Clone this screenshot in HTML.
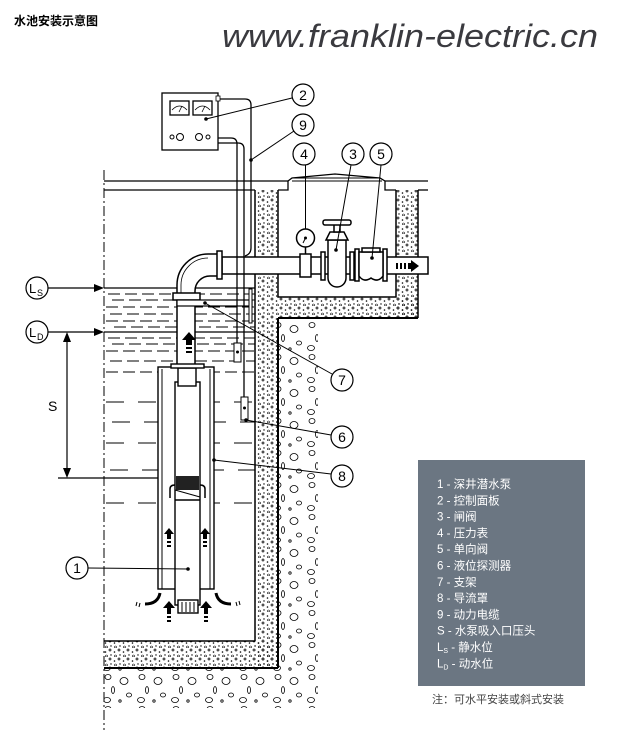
<!DOCTYPE html>
<html><head><meta charset="utf-8"><style>
html,body{margin:0;padding:0;background:#fff;}
svg{display:block;}
text{font-family:"Liberation Sans","Noto Sans CJK SC",sans-serif;}
</style></head><body>
<svg width="640" height="730" viewBox="0 0 640 730" xmlns="http://www.w3.org/2000/svg">
<defs>
<pattern id="conc" width="9" height="9" patternUnits="userSpaceOnUse">
<circle cx="2" cy="2" r="1" fill="none" stroke="#000" stroke-width="0.7"/>
<circle cx="6.5" cy="4" r="0.8" fill="#000"/>
<circle cx="3" cy="7" r="0.7" fill="#000"/>
<circle cx="7.5" cy="8" r="1" fill="none" stroke="#000" stroke-width="0.6"/>
</pattern>
<pattern id="grav" width="34" height="32" patternUnits="userSpaceOnUse">
<ellipse cx="6" cy="5" rx="3" ry="2.5" fill="none" stroke="#000" stroke-width="0.8"/>
<ellipse cx="22" cy="9" rx="4" ry="3.5" fill="none" stroke="#000" stroke-width="0.8"/>
<ellipse cx="11" cy="18" rx="1.5" ry="3.5" fill="none" stroke="#000" stroke-width="0.8"/>
<ellipse cx="27" cy="23" rx="2.5" ry="2" fill="none" stroke="#000" stroke-width="0.8"/>
<ellipse cx="5" cy="28" rx="3.5" ry="2.5" fill="none" stroke="#000" stroke-width="0.8"/>
<circle cx="18" cy="29" r="1.2" fill="none" stroke="#000" stroke-width="0.8"/>
</pattern>
</defs>

<text x="14" y="25" font-size="12" font-weight="bold" fill="#000">水池安装示意图</text>
<text x="222" y="47" font-size="32" font-style="italic" fill="#3a3a3f" textLength="376" lengthAdjust="spacingAndGlyphs">www.franklin-electric.cn</text>

<rect x="278" y="318" width="40" height="350" fill="url(#grav)"/>
<rect x="104" y="668" width="214" height="40" fill="url(#grav)"/>
<rect x="255" y="190" width="23" height="478" fill="url(#conc)"/>
<rect x="104" y="641" width="174" height="27" fill="url(#conc)"/>
<rect x="278" y="297" width="140" height="21" fill="url(#conc)"/>
<rect x="396" y="190" width="22" height="128" fill="url(#conc)"/>
<rect x="255" y="255" width="23" height="20" fill="#fff"/>
<rect x="396" y="255" width="22" height="20" fill="#fff"/>

<g stroke="#000" fill="none">
<line x1="104" y1="181" x2="288" y2="181" stroke-width="1.3"/>
<line x1="104" y1="190" x2="255" y2="190" stroke-width="1.3"/>
<line x1="385" y1="181" x2="428" y2="181" stroke-width="1.3"/>
<line x1="418" y1="190" x2="428" y2="190" stroke-width="1.3"/>
<path d="M288 181 L292 178 L335 174 L380 178 L385 181" stroke-width="1.3"/>
<line x1="292" y1="178" x2="380" y2="178"/>
<line x1="292" y1="181" x2="382" y2="181"/>
<path d="M288 181 L288 190 L278 190" stroke-width="1.3"/>
<path d="M385 181 L385 190 L396 190" stroke-width="1.3"/>
<line x1="104" y1="170" x2="104" y2="730" stroke-dasharray="10,3,2,3" stroke-width="1"/>
<line x1="255" y1="190" x2="255" y2="641" stroke-width="1.5"/>
<line x1="104" y1="641" x2="255" y2="641" stroke-width="1.5"/>
<line x1="104" y1="668" x2="278" y2="668" stroke-width="2"/>
<line x1="278" y1="318" x2="278" y2="668" stroke-width="2"/>
<line x1="278" y1="318" x2="418" y2="318" stroke-width="2"/>
<line x1="418" y1="190" x2="418" y2="318" stroke-width="1.5"/>
<path d="M278 190 L278 297 L396 297 L396 190" stroke-width="1.5"/>
<line x1="104" y1="288" x2="255" y2="288" stroke-width="1.3"/>
<line x1="104" y1="332" x2="255" y2="332" stroke-width="1.3"/>
<g stroke-dasharray="12,5" stroke-width="1">
<line x1="108" y1="294" x2="255" y2="294"/>
<line x1="112" y1="300" x2="255" y2="300"/>
<line x1="106" y1="307" x2="255" y2="307"/>
<line x1="110" y1="314" x2="255" y2="314"/>
<line x1="106" y1="321" x2="255" y2="321"/>
<line x1="114" y1="327" x2="255" y2="327"/>
<line x1="108" y1="338" x2="255" y2="338"/>
<line x1="112" y1="344" x2="255" y2="344"/>
<line x1="106" y1="351" x2="255" y2="351"/>
<line x1="110" y1="361" x2="255" y2="361"/>
<line x1="106" y1="372" x2="255" y2="372"/>
</g>
<g stroke-dasharray="18,14" stroke-width="1">
<line x1="106" y1="402" x2="255" y2="402"/>
<line x1="112" y1="422" x2="255" y2="422"/>
<line x1="106" y1="443" x2="255" y2="443"/>
<line x1="110" y1="470" x2="255" y2="470"/>
<line x1="106" y1="503" x2="255" y2="503"/>
</g>
<line x1="58" y1="478" x2="214" y2="478" stroke-width="1.2"/>
</g>

<g stroke="#000" stroke-width="1.5" fill="#fff">
<path d="M222 257 L428 257 L428 274 L222 274 Z"/>
<path d="M177 296 L177 285 A31 31 0 0 1 208 254 L218 254 L218 276 L210 276 A15 15 0 0 0 195 291 L195 296 Z"/>
<path d="M181 296 L181 285 A27 27 0 0 1 208 258" fill="none" stroke-width="0.8"/>
<rect x="217" y="251" width="5" height="28"/>
<rect x="177" y="300" width="18" height="68"/>
<rect x="173" y="293" width="27" height="7"/>
<rect x="177" y="300" width="75" height="6" stroke-width="1.2"/>
<rect x="249" y="289" width="3" height="34" stroke-width="1"/>
<rect x="300" y="254" width="11" height="23"/>
<line x1="305.5" y1="247" x2="305.5" y2="254"/>
<circle cx="305.5" cy="238" r="9"/>
<rect x="321" y="252" width="4" height="28"/>
<rect x="350" y="252" width="4" height="28"/>
<path d="M328 240 L328 278 A9 9 0 0 0 346 278 L346 240 Z"/>
<path d="M326 240 L330 232 L344 232 L348 240 Z"/>
<rect x="334" y="222" width="6" height="10"/>
<rect x="323" y="220" width="28" height="5" rx="2"/>
<rect x="355" y="249" width="4" height="32"/>
<rect x="383" y="249" width="4" height="32"/>
<path d="M359 252 L383 252 L383 276 Q378 283 371 278 Q364 283 359 276 Z"/>
<rect x="362" y="248" width="18" height="4"/>
</g>
<g fill="#000">
<rect x="396" y="263" width="2" height="6"/><rect x="400" y="263" width="2" height="6"/><rect x="404" y="263" width="2" height="6"/>
<rect x="408" y="263" width="4" height="6"/>
<path d="M411 260 L419 266 L411 272 Z"/>
</g>
<circle cx="305.5" cy="238" r="1.5" fill="#000"/>
<line x1="305.5" y1="238" x2="303" y2="243" stroke="#000"/>

<g stroke="#000" fill="#fff" stroke-width="1.3">
<rect x="162" y="93" width="56" height="57"/>
<rect x="170" y="101" width="19" height="14"/>
<rect x="193" y="101" width="19" height="14"/>
<circle cx="172" cy="137" r="2" stroke-width="1"/>
<circle cx="180" cy="137" r="3.5" stroke-width="1"/>
<circle cx="199" cy="137" r="3.5" stroke-width="1"/>
<circle cx="208" cy="137" r="2" stroke-width="1"/>
<rect x="216" y="96" width="4" height="5" stroke-width="0.8"/>
</g>
<g stroke="#000" fill="none" stroke-width="0.8">
<path d="M172 110 Q179.5 102 187 110"/><path d="M195 110 Q202.5 102 210 110"/>
<line x1="179" y1="112" x2="182" y2="106"/><line x1="202" y1="112" x2="205" y2="106"/>
</g>
<g stroke="#000" fill="none" stroke-width="1.3">
<path d="M220 99 L245 99 Q251 99 251 105 L251 248 Q251 254 245 256"/>
<path d="M218 138 L231 138 Q237 138 237 144 L237 343"/>
<path d="M218 143 L238 143 Q244 143 244 149 L244 397"/>
</g>
<rect x="234" y="343" width="7" height="19" fill="#fff" stroke="#000"/>
<circle cx="237.5" cy="352" r="1.5" fill="#000"/>
<rect x="241" y="397" width="7" height="23" fill="#fff" stroke="#000"/>
<circle cx="244.5" cy="408" r="1.5" fill="#000"/>

<g stroke="#000" stroke-width="1.4" fill="#fff">
<rect x="158" y="367" width="56" height="222"/>
<line x1="162" y1="369" x2="162" y2="589" stroke-width="1"/>
<line x1="210" y1="369" x2="210" y2="589" stroke-width="1"/>
<rect x="175" y="382" width="25" height="223"/>
<rect x="178" y="368" width="18" height="18"/>
<rect x="171" y="364" width="33" height="4"/>
<rect x="178" y="600" width="20" height="13"/>
</g>
<rect x="176" y="476" width="23" height="14" fill="#222"/>
<line x1="175" y1="490" x2="200" y2="497" stroke="#000"/>
<line x1="175" y1="500" x2="200" y2="500" stroke="#000" stroke-width="1.5"/>
<g stroke="#000" stroke-width="1">
<line x1="182" y1="602" x2="182" y2="612"/><line x1="186" y1="602" x2="186" y2="612"/><line x1="190" y1="602" x2="190" y2="612"/><line x1="194" y1="602" x2="194" y2="612"/>
</g>
<g fill="#000">
<path d="M182 340 L189 332 L196 340 Z"/><rect x="186" y="340" width="6" height="5"/><rect x="186" y="347" width="6" height="2"/><rect x="186" y="351" width="6" height="2"/>
<path d="M164 534 L169 528 L174 534 Z"/><rect x="167" y="534" width="4" height="5"/><rect x="167" y="541" width="4" height="2"/><rect x="167" y="545" width="4" height="2"/>
<path d="M200 534 L205 528 L210 534 Z"/><rect x="203" y="534" width="4" height="5"/><rect x="203" y="541" width="4" height="2"/><rect x="203" y="545" width="4" height="2"/>
<path d="M163 608 L169 601 L175 608 Z"/><rect x="167" y="608" width="4" height="6"/><rect x="167" y="616" width="4" height="2"/><rect x="167" y="620" width="4" height="2"/>
<path d="M200 608 L206 601 L212 608 Z"/><rect x="204" y="608" width="4" height="6"/><rect x="204" y="616" width="4" height="2"/><rect x="204" y="620" width="4" height="2"/>
</g>
<g stroke="#000" fill="none" stroke-width="3">
<path d="M145 604 Q158 604 160 593"/>
<path d="M231 604 Q218 604 216 593"/>
<path d="M170 498 L170 489 Q170 485 175 485" stroke-width="1.5"/>
<path d="M205 498 L205 489 Q205 485 200 485" stroke-width="1.5"/>
</g>
<g stroke="#000" stroke-width="1">
<line x1="137" y1="602" x2="136" y2="606"/><line x1="140" y1="603" x2="139" y2="607"/>
<line x1="236" y1="602" x2="237" y2="606"/><line x1="239" y1="601" x2="240" y2="605"/>
</g>

<g stroke="#000" stroke-width="1.2" fill="none">
<line x1="67" y1="340" x2="67" y2="470"/>
<line x1="48" y1="288" x2="100" y2="288"/>
<line x1="48" y1="332" x2="100" y2="332"/>
<circle cx="37" cy="288" r="11"/>
<circle cx="37" cy="332" r="11"/>
</g>
<g fill="#000">
<path d="M67 332 L63 342 L71 342 Z"/><path d="M67 478 L63 468 L71 468 Z"/>
<path d="M104 288 L94 284 L94 292 Z"/><path d="M104 332 L94 328 L94 336 Z"/>
</g>
<text x="29" y="293" font-size="13">L</text><text x="37" y="296" font-size="9">S</text>
<text x="29" y="337" font-size="13">L</text><text x="37" y="340" font-size="9">D</text>
<text x="48" y="411" font-size="14">S</text>

<g stroke="#000" stroke-width="1" fill="none">
<line x1="206" y1="119" x2="292" y2="98"/>
<line x1="251" y1="160" x2="294" y2="131"/>
<line x1="305.5" y1="165" x2="305.5" y2="229"/>
<line x1="336" y1="250" x2="351" y2="165"/>
<line x1="372" y1="258" x2="381" y2="165"/>
<line x1="205" y1="303" x2="332" y2="374"/>
<line x1="246" y1="420" x2="331" y2="435"/>
<line x1="214" y1="460" x2="331" y2="474"/>
<line x1="88" y1="568" x2="188" y2="569"/>
</g>
<g fill="#000">
<circle cx="206" cy="119" r="1.8"/><circle cx="251" cy="160" r="1.8"/><circle cx="336" cy="250" r="1.8"/>
<circle cx="372" cy="258" r="1.8"/><circle cx="205" cy="303" r="1.8"/><circle cx="246" cy="420" r="1.8"/>
<circle cx="214" cy="460" r="1.8"/><circle cx="188" cy="569" r="1.8"/>
</g>
<g stroke="#000" stroke-width="1.2" fill="#fff">
<circle cx="303" cy="95" r="11"/><circle cx="303" cy="125" r="11"/><circle cx="304" cy="154" r="11"/>
<circle cx="353" cy="154" r="11"/><circle cx="381" cy="154" r="11"/><circle cx="342" cy="380" r="11"/>
<circle cx="342" cy="437" r="11"/><circle cx="342" cy="476" r="11"/><circle cx="77" cy="568" r="11"/>
</g>
<g font-size="14" text-anchor="middle">
<text x="303" y="100">2</text><text x="303" y="130">9</text><text x="304" y="159">4</text>
<text x="353" y="159">3</text><text x="381" y="159">5</text><text x="342" y="385">7</text>
<text x="342" y="442">6</text><text x="342" y="481">8</text><text x="77" y="573">1</text>
</g>

<rect x="418" y="460" width="167" height="226" fill="#6b7682"/>
<g fill="#fff" font-size="11.5">
<text x="437" y="488">1 - 深井潜水泵</text>
<text x="437" y="504.3">2 - 控制面板</text>
<text x="437" y="520.6">3 - 闸阀</text>
<text x="437" y="536.9">4 - 压力表</text>
<text x="437" y="553.2">5 - 单向阀</text>
<text x="437" y="569.5">6 - 液位探测器</text>
<text x="437" y="585.8">7 - 支架</text>
<text x="437" y="602.1">8 - 导流罩</text>
<text x="437" y="618.4">9 - 动力电缆</text>
<text x="437" y="634.7">S - 水泵吸入口压头</text>
<text x="437" y="651">L<tspan font-size="7" dy="2">S</tspan><tspan dy="-2"> - 静水位</tspan></text>
<text x="437" y="667.3">L<tspan font-size="7" dy="2">D</tspan><tspan dy="-2"> - 动水位</tspan></text>
</g>
<text x="432" y="703" font-size="11" fill="#444">注：可水平安装或斜式安装</text>
</svg>
</body></html>
